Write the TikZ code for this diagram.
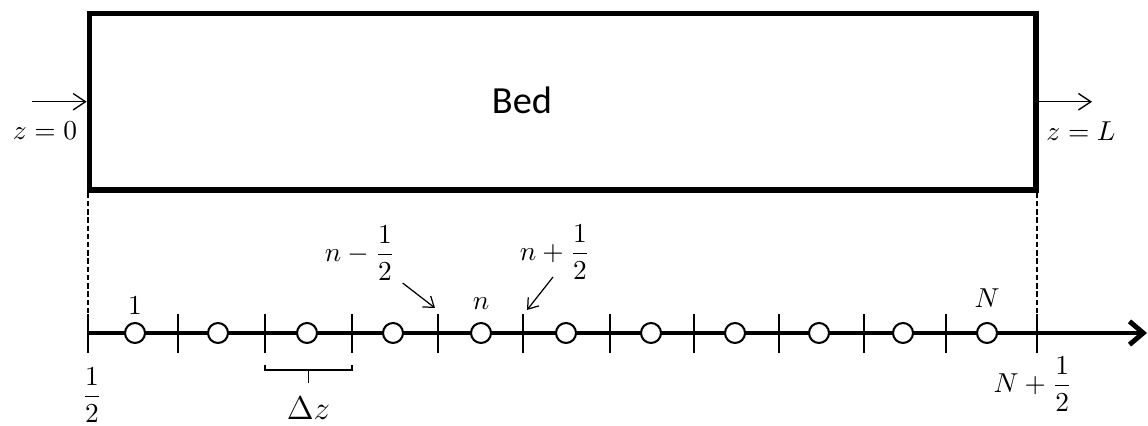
\documentclass[tikz,border=0pt]{standalone}
\usepackage{amsmath}
\usepackage{fontspec}
\newfontfamily\bedfont{Carlito}
\usetikzlibrary{arrows.meta,calc,positioning}

\begin{document}
\begin{tikzpicture}[x=.365pt,y=.365pt,
  wall/.style={draw,line width=2pt,inner sep=0pt,minimum width=345.5pt,minimum height=64.4pt},
  feed/.style={line width=.5pt,-{Straight Barb[length=4.5pt,width=6pt]}},
  axis/.style={line width=1.8pt,-{Straight Barb[length=5pt,width=8.5pt]}},
  cell/.style={circle,draw,fill=white,line width=.75pt,inner sep=0pt,minimum size=7.3pt},
  tickmark/.style={line width=.45pt},
  guide/.style={line width=.45pt,dash pattern=on 2pt off 1pt},
  pointer/.style={line width=.45pt,-{Straight Barb[length=3.5pt,width=5pt]}},
  brace/.style={line width=.7pt},
  lbl/.style={inner sep=0pt}]

\useasboundingbox (0,0) rectangle (1148,426);

% The bed with its inlet and outlet.
\node[wall] (bed) at (562.75,324.25) {};
\node[lbl,font=\bedfont\fontsize{14}{16}\selectfont] (bedname) at (522,326) {Bed};
\coordinate (inlet) at (32,324.25);
\coordinate (outlet) at (1092,324.25);
\draw[feed] (inlet) -- (bed.west);
\draw[feed] (bed.east) -- (outlet);
\node[lbl] (z0) at (45,295) {$z=0$};
\node[lbl] (zL) at (1081,295) {$z=L$};

% Grid along the axis: cell faces and cell centres.
\foreach \x [count=\i from 0] in {88,178,265,352,438,523,610,694,779,864,946,1037}
  \coordinate (k\i) at (\x,93);
\coordinate (tip) at (1147,93);
\draw[axis] (k0) -- (tip);
\foreach \i in {0,...,11}
  \draw[tickmark] ($(k\i)+(0,19)$) -- ($(k\i)+(0,-20)$);
\foreach \x [count=\i] in {135,218,307,393,481,566,651,735,819,903,987}
  \node[cell] (c\i) at (\x,93) {};
\draw[guide] (k0 |- bed.south) -- ($(k0)+(0,19)$);
\draw[guide] (k11 |- bed.south) -- ($(k11)+(0,19)$);

% Labels of cells and faces.
\node[lbl,anchor=base] (one) at (135,111) {$1$};
\node[lbl,anchor=base] (nlab) at (481,116) {$n$};
\node[lbl,anchor=base] (Nlab) at (987,118) {$N$};
\node[lbl] (half) at (92,31) {$\dfrac{1}{2}$};
\node[lbl] (Nhalf) at (1033,42) {$N+\dfrac{1}{2}$};
\node[lbl] (nminus) at (360,173) {$n-\dfrac{1}{2}$};
\node[lbl] (nplus) at (555,174) {$n+\dfrac{1}{2}$};
\draw[pointer] ([shift={(7,-2)}]nminus.south east) -- ([shift={(-3,25)}]k4);
\draw[pointer] ([shift={(-2,3)}]nplus.south) -- ([shift={(4,23)}]k5);

% Cell width.
\draw[brace] ($(k2)+(0,-32)$) -- ++(0,-5) -- ($(k3)+(0,-37)$) -- ++(0,5);
\coordinate (dzmid) at ($(k2)!.5!(k3)+(0,-37)$);
\draw[brace] (dzmid) -- ++(0,-13);
\node[lbl,font=\large] (dz) at ($(dzmid)+(0,-38)$) {$\Delta z$};
\end{tikzpicture}
\end{document}
